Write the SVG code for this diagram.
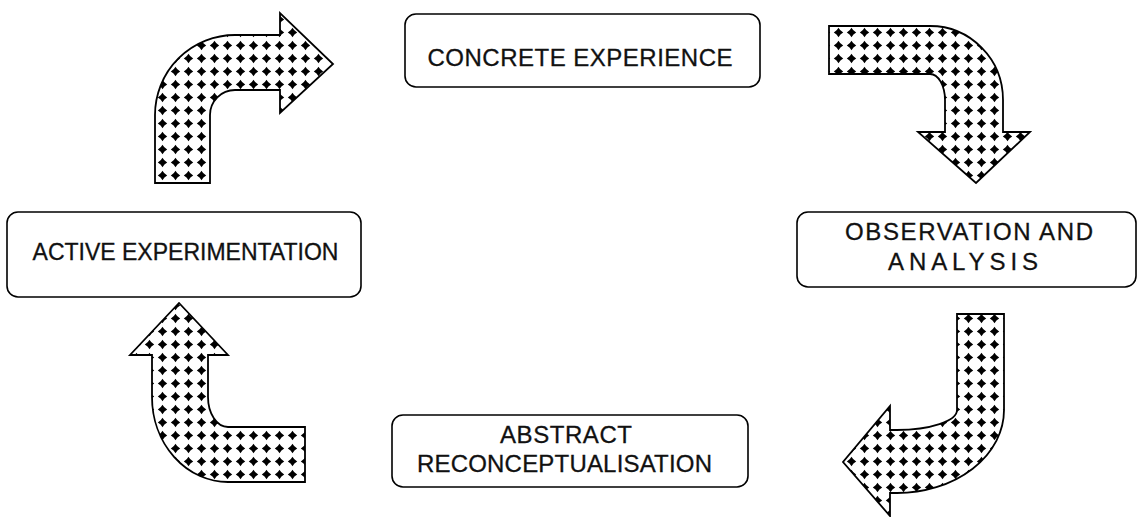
<svg xmlns="http://www.w3.org/2000/svg" width="1139" height="517" viewBox="0 0 1139 517">
<defs>
<pattern id="dots" width="13" height="13" patternUnits="userSpaceOnUse">
<rect width="13" height="13" fill="#fff"/>
<path d="M6.5,1.8 Q8.1,4.9 11.2,6.5 Q8.1,8.1 6.5,11.2 Q4.9,8.1 1.8,6.5 Q4.9,4.9 6.5,1.8 Z" fill="#000"/>
</pattern>
<style>
.box{fill:#fff;stroke:#000;stroke-width:1.6}
.arrow{fill:url(#dots);stroke:#000;stroke-width:1.8;stroke-linejoin:miter}
.lbl{font-family:"Liberation Sans",Arial,sans-serif;font-size:24px;fill:#111;stroke:#111;stroke-width:0.3;text-anchor:middle}
</style>
</defs>
<rect width="1139" height="517" fill="#fff"/>
<g id="connectors">
<path id="arrow-ae-ce" class="arrow" d="M155,183 L155,115 A80,80 0 0 1 235,35 L280,35 L280,13 L333,64 L280,113 L280,90 L235,90 A25,25 0 0 0 210,115 L210,183 Z"/>
<path id="arrow-ce-oa" class="arrow" d="M829,26 L930,26 A73,74 0 0 1 1003,100 L1003,132 L1030,132 L976,183 L918,132 L945,132 L945,100 A15,26 0 0 0 930,74 L829,74 Z"/>
<path id="arrow-oa-ar" class="arrow" d="M957,314 L1004,314 L1004,410 A107,83 0 0 1 897,493 L890,493 L890,516 L843,462 L890,406 L890,430 L897,430 A60,20 0 0 0 957,410 Z"/>
<path id="arrow-ar-ae" class="arrow" d="M305,427 L305,482 L228,482 A76,85 0 0 1 152,397 L152,355 L130,355 L179,303 L228,355 L208,355 L208,397 A20,30 0 0 0 228,427 Z"/>
</g>
<g id="node-concrete">
<rect class="box" x="405" y="14" width="355" height="73" rx="11"/>
<text class="lbl" x="580" y="66" textLength="305" lengthAdjust="spacing">CONCRETE EXPERIENCE</text>
</g>
<g id="node-active">
<rect class="box" x="7" y="212" width="354" height="85" rx="11"/>
<text class="lbl" x="185.5" y="260" style="font-size:23px">ACTIVE EXPERIMENTATION</text>
</g>
<g id="node-observation">
<rect class="box" x="797" y="212" width="339" height="75" rx="11"/>
<text class="lbl" x="969" y="240" textLength="248" lengthAdjust="spacing">OBSERVATION AND</text>
<text class="lbl" x="963" y="270" textLength="150" lengthAdjust="spacing">ANALYSIS</text>
</g>
<g id="node-abstract">
<rect class="box" x="392" y="415" width="356" height="72" rx="11"/>
<text class="lbl" x="566" y="443" textLength="132" lengthAdjust="spacing">ABSTRACT</text>
<text class="lbl" x="564.5" y="472" textLength="295" lengthAdjust="spacing">RECONCEPTUALISATION</text>
</g>
</svg>
